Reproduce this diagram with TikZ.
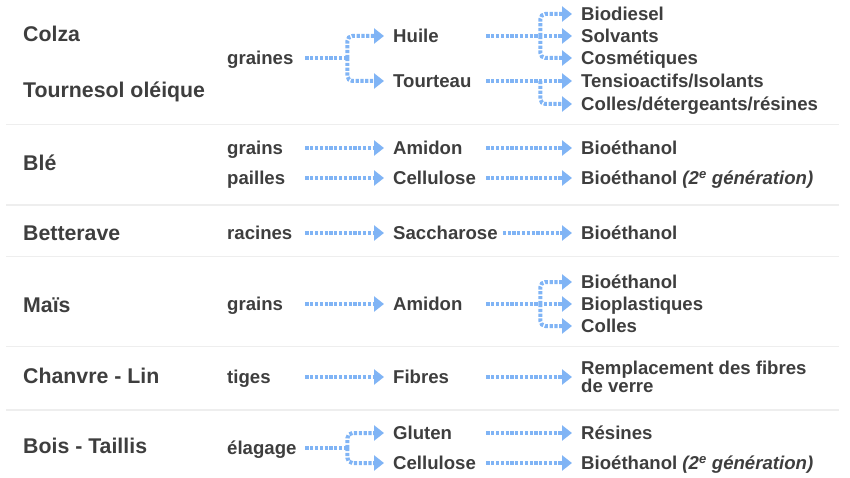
\documentclass[tikz,border=0pt]{standalone}
\usepackage{fontspec}
\setmainfont{Liberation Sans}
\usetikzlibrary{arrows.meta}
\tikzstyle{chart} = [x = 1pt, y = -1pt]
\definecolor{arrowColor}{RGB}{128,180,245}
\definecolor{labelColor}{RGB}{62,62,62}
\definecolor{ruleColor}{RGB}{238,238,238}
\tikzstyle{ruleLine} = [color=ruleColor, line width=1.2pt]
\tikzstyle{baseText} = [anchor=west, inner sep=0, text=labelColor]
\tikzstyle{cropText} = [baseText, font=\fontsize{21.3}{24}\selectfont\bfseries, text height=19pt, text depth=4pt]
\tikzstyle{itemText} = [baseText, font=\fontsize{18.6}{15.3}\selectfont\bfseries, text height=17pt, text depth=3.7pt]
\tikzstyle{partText} = [itemText, text width=78pt, align=left]
\tikzstyle{productText} = [itemText, text width=93pt, align=left]
\tikzstyle{useText} = [itemText]
\tikzstyle{useTwoLines} = [baseText, font=\fontsize{18.6}{15.3}\selectfont\bfseries, align=left]
\tikzstyle{stemLine} = [draw=arrowColor, line width=4pt, dash pattern=on 3.2pt off 1.6pt]
\tikzstyle{flowLine} = [stemLine, -{Triangle[length=10pt, width=15pt]}, shorten >=9pt]
\newcommand{\flow}[2]{\draw [flowLine] (#1.east) -- (#2.west);}
\newcommand{\stem}[2]{\draw [stemLine] (#1.east) -- (#2);}
\newcommand{\branch}[2]{\draw [flowLine, rounded corners=5pt] (#1) |- (#2.west);}

\begin{document}
\begin{tikzpicture}[chart]
  \useasboundingbox (0,0) rectangle (850,478);
  \foreach \y in {124.5,205,256.5,346.5,410} {
    \draw [ruleLine] (6,\y) -- (839,\y);
  }
  % Colza, Tournesol
  \node [cropText] (colza) at (23,34) {Colza};
  \node [cropText] (tournesol) at (23,90) {Tournesol oléique};
  \node [partText] (graines) at (227,58) {graines};
  \node [productText] (huile) at (393,36) {Huile};
  \node [productText] (tourteau) at (393,81) {Tourteau};
  \node [useText] (biodiesel) at (581,14) {Biodiesel};
  \node [useText] (solvants) at (581,36) {Solvants};
  \node [useText] (cosmetiques) at (581,58) {Cosmétiques};
  \node [useText] (tensioactifs) at (581,81) {Tensioactifs/Isolants};
  \node [useText] (colles) at (581,104) {Colles/détergeants/résines};
  \path (graines.east) ++(42,0) coordinate (forkA);
  \path (huile.east) ++(54,0) coordinate (forkB);
  \path (tourteau.east) ++(54,0) coordinate (forkC);
  \stem{graines}{forkA}
  \branch{forkA}{huile}
  \branch{forkA}{tourteau}
  \flow{huile}{solvants}
  \branch{forkB}{biodiesel}
  \branch{forkB}{cosmetiques}
  \flow{tourteau}{tensioactifs}
  \branch{forkC}{colles}
  % Ble
  \node [cropText] (ble) at (23,163) {Blé};
  \node [partText] (grains) at (227,148) {grains};
  \node [partText] (pailles) at (227,178) {pailles};
  \node [productText] (amidon) at (393,148) {Amidon};
  \node [productText] (cellulose) at (393,178) {Cellulose};
  \node [useText] (ethanolA) at (581,148) {Bioéthanol};
  \node [useText] (ethanolB) at (581,178) {Bioéthanol \textit{(2\textsuperscript{e} génération)}};
  \flow{grains}{amidon}
  \flow{pailles}{cellulose}
  \flow{amidon}{ethanolA}
  \flow{cellulose}{ethanolB}
  % Betterave
  \node [cropText] (betterave) at (23,233) {Betterave};
  \node [partText] (racines) at (227,233) {racines};
  \node [itemText] (saccharose) at (393,233) {Saccharose};
  \node [useText] (ethanolC) at (581,233) {Bioéthanol};
  \flow{racines}{saccharose}
  \draw [flowLine, shorten <=5pt] (saccharose.east) -- (ethanolC.west);
  % Mais
  \node [cropText] (mais) at (23,305) {Maïs};
  \node [partText] (grainsM) at (227,304) {grains};
  \node [productText] (amidonM) at (393,304) {Amidon};
  \node [useText] (ethanolM) at (581,282) {Bioéthanol};
  \node [useText] (plastiques) at (581,304) {Bioplastiques};
  \node [useText] (collesM) at (581,326) {Colles};
  \path (amidonM.east) ++(54,0) coordinate (forkD);
  \flow{grainsM}{amidonM}
  \flow{amidonM}{plastiques}
  \branch{forkD}{ethanolM}
  \branch{forkD}{collesM}
  % Chanvre, Lin
  \node [cropText] (chanvre) at (23,376) {Chanvre - Lin};
  \node [partText] (tiges) at (227,377) {tiges};
  \node [productText] (fibres) at (393,377) {Fibres};
  \node [useTwoLines] (verre) at (581,377) {Remplacement des fibres\\de verre};
  \flow{tiges}{fibres}
  \flow{fibres}{verre}
  % Bois, Taillis
  \node [cropText] (bois) at (23,446) {Bois - Taillis};
  \node [partText] (elagage) at (227,448) {élagage};
  \node [productText] (gluten) at (393,433) {Gluten};
  \node [productText] (celluloseB) at (393,463) {Cellulose};
  \node [useText] (resines) at (581,433) {Résines};
  \node [useText] (ethanolD) at (581,463) {Bioéthanol \textit{(2\textsuperscript{e} génération)}};
  \path (elagage.east) ++(42,0) coordinate (forkE);
  \stem{elagage}{forkE}
  \branch{forkE}{gluten}
  \branch{forkE}{celluloseB}
  \flow{gluten}{resines}
  \flow{celluloseB}{ethanolD}
\end{tikzpicture}
\end{document}
